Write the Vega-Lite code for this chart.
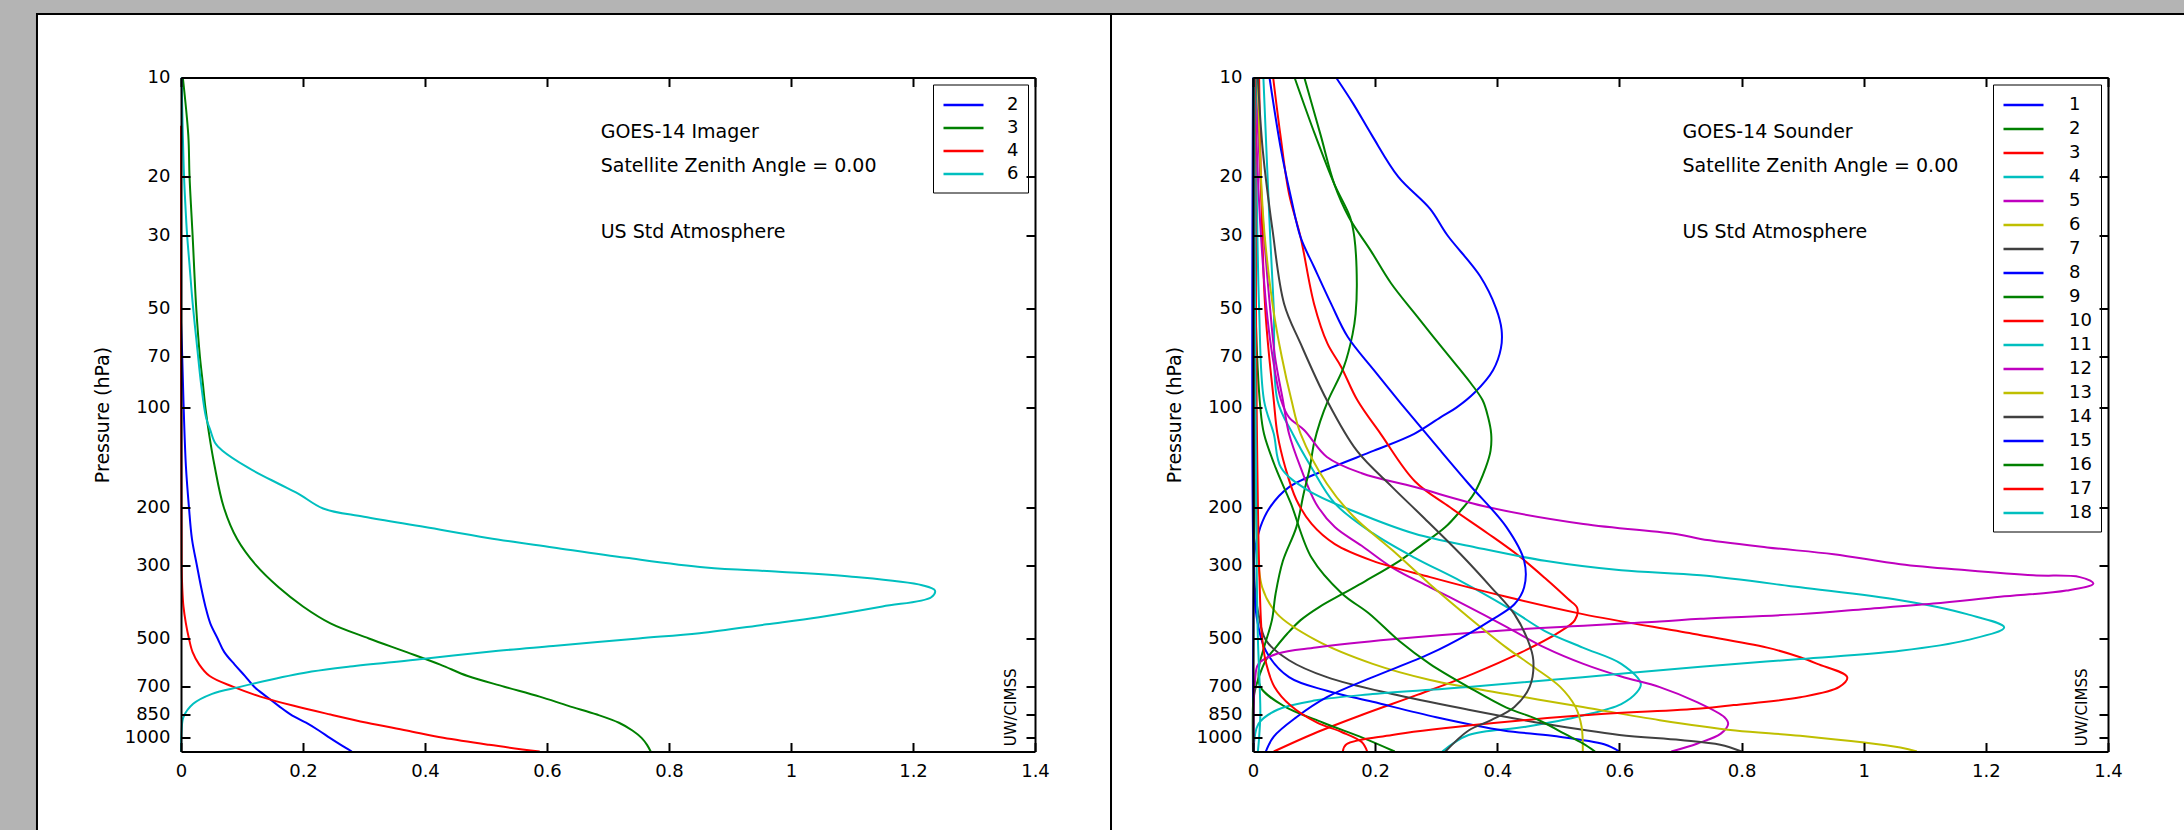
{
  "$schema": "https://vega.github.io/schema/vega-lite/v6.json",
  "background": "#b4b4b4",
  "padding": {"left": 35, "top": 12.5, "right": 0, "bottom": 0},
  "config": {
    "font": "DejaVu Sans",
    "view": {"stroke": null},
    "axis": {"grid": false, "domainColor": "black", "domainWidth": 2, "tickColor": "black", "tickWidth": 2, "tickSize": -9, "labelFontSize": 18, "labelColor": "black", "labelFont": "DejaVu Sans", "labelFlush": false}
  },
  "datasets": {
    "imager": [
      {"c":"2","p":55,"w":0},{"c":"2","p":70,"w":0.002},{"c":"2","p":95,"w":0.004},{"c":"2","p":150,"w":0.008},{"c":"2","p":200,"w":0.013},{"c":"2","p":250,"w":0.018},{"c":"2","p":300,"w":0.026},{"c":"2","p":350,"w":0.033},{"c":"2","p":400,"w":0.04},{"c":"2","p":450,"w":0.048},{"c":"2","p":500,"w":0.06},{"c":"2","p":550,"w":0.071},{"c":"2","p":600,"w":0.088},{"c":"2","p":650,"w":0.105},{"c":"2","p":700,"w":0.12},{"c":"2","p":750,"w":0.14},{"c":"2","p":800,"w":0.16},{"c":"2","p":850,"w":0.18},{"c":"2","p":900,"w":0.205},{"c":"2","p":950,"w":0.226},{"c":"2","p":1000,"w":0.244},{"c":"2","p":1050,"w":0.262},{"c":"2","p":1100,"w":0.28},
      {"c":"3","p":10,"w":0.003},{"c":"3","p":15,"w":0.012},{"c":"3","p":20,"w":0.014},{"c":"3","p":30,"w":0.019},{"c":"3","p":50,"w":0.025},{"c":"3","p":70,"w":0.031},{"c":"3","p":85,"w":0.036},{"c":"3","p":100,"w":0.04},{"c":"3","p":120,"w":0.046},{"c":"3","p":150,"w":0.055},{"c":"3","p":200,"w":0.07},{"c":"3","p":250,"w":0.092},{"c":"3","p":300,"w":0.123},{"c":"3","p":350,"w":0.16},{"c":"3","p":400,"w":0.2},{"c":"3","p":450,"w":0.245},{"c":"3","p":500,"w":0.308},{"c":"3","p":550,"w":0.37},{"c":"3","p":600,"w":0.425},{"c":"3","p":650,"w":0.47},{"c":"3","p":700,"w":0.53},{"c":"3","p":750,"w":0.588},{"c":"3","p":800,"w":0.635},{"c":"3","p":850,"w":0.682},{"c":"3","p":900,"w":0.718},{"c":"3","p":950,"w":0.74},{"c":"3","p":1000,"w":0.755},{"c":"3","p":1050,"w":0.764},{"c":"3","p":1100,"w":0.77},
      {"c":"4","p":14,"w":0},{"c":"4","p":300,"w":0.001},{"c":"4","p":350,"w":0.002},{"c":"4","p":400,"w":0.004},{"c":"4","p":450,"w":0.008},{"c":"4","p":500,"w":0.013},{"c":"4","p":550,"w":0.019},{"c":"4","p":600,"w":0.03},{"c":"4","p":650,"w":0.047},{"c":"4","p":700,"w":0.085},{"c":"4","p":750,"w":0.13},{"c":"4","p":800,"w":0.185},{"c":"4","p":850,"w":0.245},{"c":"4","p":900,"w":0.305},{"c":"4","p":950,"w":0.37},{"c":"4","p":1000,"w":0.43},{"c":"4","p":1050,"w":0.505},{"c":"4","p":1100,"w":0.588},
      {"c":"6","p":10,"w":0.001},{"c":"6","p":15,"w":0.003},{"c":"6","p":20,"w":0.005},{"c":"6","p":26,"w":0.008},{"c":"6","p":30,"w":0.01},{"c":"6","p":37,"w":0.014},{"c":"6","p":48,"w":0.019},{"c":"6","p":67,"w":0.027},{"c":"6","p":85,"w":0.033},{"c":"6","p":107,"w":0.041},{"c":"6","p":117,"w":0.048},{"c":"6","p":128,"w":0.056},{"c":"6","p":135,"w":0.068},{"c":"6","p":152,"w":0.11},{"c":"6","p":170,"w":0.16},{"c":"6","p":182,"w":0.192},{"c":"6","p":202,"w":0.233},{"c":"6","p":214,"w":0.3},{"c":"6","p":230,"w":0.4},{"c":"6","p":248,"w":0.503},{"c":"6","p":265,"w":0.61},{"c":"6","p":285,"w":0.73},{"c":"6","p":305,"w":0.86},{"c":"6","p":314,"w":0.98},{"c":"6","p":325,"w":1.1},{"c":"6","p":345,"w":1.215},{"c":"6","p":358,"w":1.236},{"c":"6","p":375,"w":1.23},{"c":"6","p":400,"w":1.15},{"c":"6","p":431,"w":1.046},{"c":"6","p":453,"w":0.96},{"c":"6","p":482,"w":0.85},{"c":"6","p":500,"w":0.75},{"c":"6","p":527,"w":0.61},{"c":"6","p":545,"w":0.52},{"c":"6","p":580,"w":0.384},{"c":"6","p":608,"w":0.277},{"c":"6","p":630,"w":0.214},{"c":"6","p":668,"w":0.145},{"c":"6","p":702,"w":0.095},{"c":"6","p":736,"w":0.051},{"c":"6","p":789,"w":0.02},{"c":"6","p":866,"w":0.004},{"c":"6","p":950,"w":0.001},{"c":"6","p":1100,"w":0}
    ],
    "sounder": [
      {"c":"1","p":10,"w":0.136},{"c":"1","p":12,"w":0.164},{"c":"1","p":15,"w":0.195},{"c":"1","p":20,"w":0.238},{"c":"1","p":25,"w":0.29},{"c":"1","p":30,"w":0.318},{"c":"1","p":40,"w":0.372},{"c":"1","p":50,"w":0.398},{"c":"1","p":58,"w":0.407},{"c":"1","p":66,"w":0.406},{"c":"1","p":77,"w":0.393},{"c":"1","p":90,"w":0.363},{"c":"1","p":100,"w":0.333},{"c":"1","p":107,"w":0.307},{"c":"1","p":120,"w":0.264},{"c":"1","p":135,"w":0.198},{"c":"1","p":152,"w":0.128},{"c":"1","p":174,"w":0.059},{"c":"1","p":200,"w":0.028},{"c":"1","p":230,"w":0.012},{"c":"1","p":270,"w":0.003},{"c":"1","p":350,"w":0.001},{"c":"1","p":1100,"w":0},
      {"c":"2","p":10,"w":0.084},{"c":"2","p":15,"w":0.111},{"c":"2","p":21,"w":0.133},{"c":"2","p":26.5,"w":0.157},{"c":"2","p":33.5,"w":0.193},{"c":"2","p":42,"w":0.226},{"c":"2","p":53,"w":0.269},{"c":"2","p":67,"w":0.313},{"c":"2","p":84.5,"w":0.357},{"c":"2","p":95,"w":0.376},{"c":"2","p":107,"w":0.385},{"c":"2","p":120,"w":0.39},{"c":"2","p":135,"w":0.389},{"c":"2","p":152,"w":0.381},{"c":"2","p":182,"w":0.362},{"c":"2","p":205,"w":0.34},{"c":"2","p":230,"w":0.315},{"c":"2","p":259,"w":0.278},{"c":"2","p":291,"w":0.24},{"c":"2","p":335,"w":0.184},{"c":"2","p":366,"w":0.147},{"c":"2","p":401,"w":0.109},{"c":"2","p":440,"w":0.078},{"c":"2","p":484,"w":0.056},{"c":"2","p":533,"w":0.037},{"c":"2","p":582,"w":0.021},{"c":"2","p":668,"w":0.008},{"c":"2","p":736,"w":0.002},{"c":"2","p":800,"w":0},{"c":"2","p":1100,"w":0},
      {"c":"3","p":10,"w":0.033},{"c":"3","p":15,"w":0.045},{"c":"3","p":22.5,"w":0.059},{"c":"3","p":30.5,"w":0.078},{"c":"3","p":48.5,"w":0.1},{"c":"3","p":64,"w":0.122},{"c":"3","p":75,"w":0.144},{"c":"3","p":95,"w":0.171},{"c":"3","p":120,"w":0.209},{"c":"3","p":167,"w":0.265},{"c":"3","p":200,"w":0.322},{"c":"3","p":240,"w":0.384},{"c":"3","p":280,"w":0.434},{"c":"3","p":328,"w":0.478},{"c":"3","p":380,"w":0.516},{"c":"3","p":405,"w":0.531},{"c":"3","p":440,"w":0.527},{"c":"3","p":480,"w":0.5},{"c":"3","p":550,"w":0.44},{"c":"3","p":640,"w":0.36},{"c":"3","p":740,"w":0.27},{"c":"3","p":850,"w":0.18},{"c":"3","p":970,"w":0.1},{"c":"3","p":1100,"w":0.034},
      {"c":"4","p":10,"w":0.017},{"c":"4","p":30,"w":0.028},{"c":"4","p":50,"w":0.034},{"c":"4","p":95,"w":0.04},{"c":"4","p":120,"w":0.065},{"c":"4","p":152,"w":0.096},{"c":"4","p":195,"w":0.134},{"c":"4","p":240,"w":0.196},{"c":"4","p":285,"w":0.265},{"c":"4","p":335,"w":0.34},{"c":"4","p":401,"w":0.415},{"c":"4","p":475,"w":0.478},{"c":"4","p":533,"w":0.54},{"c":"4","p":597,"w":0.603},{"c":"4","p":686,"w":0.635},{"c":"4","p":730,"w":0.628},{"c":"4","p":790,"w":0.603},{"c":"4","p":856,"w":0.54},{"c":"4","p":926,"w":0.447},{"c":"4","p":980,"w":0.353},{"c":"4","p":1100,"w":0.31},
      {"c":"5","p":10,"w":0.004},{"c":"5","p":20,"w":0.012},{"c":"5","p":30,"w":0.018},{"c":"5","p":50,"w":0.028},{"c":"5","p":70,"w":0.036},{"c":"5","p":95,"w":0.049},{"c":"5","p":120,"w":0.059},{"c":"5","p":152,"w":0.078},{"c":"5","p":195,"w":0.103},{"c":"5","p":230,"w":0.134},{"c":"5","p":262,"w":0.178},{"c":"5","p":305,"w":0.228},{"c":"5","p":350,"w":0.29},{"c":"5","p":401,"w":0.353},{"c":"5","p":461,"w":0.415},{"c":"5","p":533,"w":0.478},{"c":"5","p":597,"w":0.541},{"c":"5","p":652,"w":0.603},{"c":"5","p":702,"w":0.666},{"c":"5","p":781,"w":0.728},{"c":"5","p":866,"w":0.772},{"c":"5","p":907,"w":0.778},{"c":"5","p":971,"w":0.766},{"c":"5","p":1040,"w":0.728},{"c":"5","p":1100,"w":0.685},
      {"c":"6","p":10,"w":0.002},{"c":"6","p":100,"w":0.003},{"c":"6","p":230,"w":0.006},{"c":"6","p":350,"w":0.015},{"c":"6","p":422,"w":0.04},{"c":"6","p":506,"w":0.103},{"c":"6","p":597,"w":0.196},{"c":"6","p":668,"w":0.29},{"c":"6","p":737,"w":0.415},{"c":"6","p":806,"w":0.54},{"c":"6","p":884,"w":0.666},{"c":"6","p":950,"w":0.79},{"c":"6","p":986,"w":0.896},{"c":"6","p":1070,"w":1.06},{"c":"6","p":1100,"w":1.087},
      {"c":"7","p":10,"w":0.005},{"c":"7","p":100,"w":0.004},{"c":"7","p":350,"w":0.003},{"c":"7","p":422,"w":0.009},{"c":"7","p":506,"w":0.021},{"c":"7","p":582,"w":0.059},{"c":"7","p":655,"w":0.121},{"c":"7","p":737,"w":0.228},{"c":"7","p":822,"w":0.353},{"c":"7","p":907,"w":0.478},{"c":"7","p":980,"w":0.6},{"c":"7","p":1016,"w":0.7},{"c":"7","p":1050,"w":0.765},{"c":"7","p":1100,"w":0.8},
      {"c":"8","p":10,"w":0},{"c":"8","p":300,"w":0.001},{"c":"8","p":431,"w":0.006},{"c":"8","p":545,"w":0.021},{"c":"8","p":655,"w":0.059},{"c":"8","p":720,"w":0.121},{"c":"8","p":778,"w":0.196},{"c":"8","p":866,"w":0.3},{"c":"8","p":950,"w":0.41},{"c":"8","p":986,"w":0.49},{"c":"8","p":1046,"w":0.575},{"c":"8","p":1100,"w":0.6},
      {"c":"9","p":10,"w":0.068},{"c":"9","p":14.8,"w":0.101},{"c":"9","p":21,"w":0.133},{"c":"9","p":26.5,"w":0.159},{"c":"9","p":30.5,"w":0.166},{"c":"9","p":42,"w":0.17},{"c":"9","p":52,"w":0.168},{"c":"9","p":60,"w":0.163},{"c":"9","p":75,"w":0.149},{"c":"9","p":95,"w":0.123},{"c":"9","p":110,"w":0.11},{"c":"9","p":128,"w":0.1},{"c":"9","p":152,"w":0.093},{"c":"9","p":182,"w":0.083},{"c":"9","p":230,"w":0.071},{"c":"9","p":291,"w":0.049},{"c":"9","p":366,"w":0.037},{"c":"9","p":440,"w":0.031},{"c":"9","p":533,"w":0.018},{"c":"9","p":610,"w":0.01},{"c":"9","p":700,"w":0.012},{"c":"9","p":800,"w":0.05},{"c":"9","p":900,"w":0.115},{"c":"9","p":1000,"w":0.18},{"c":"9","p":1100,"w":0.232},
      {"c":"10","p":10,"w":0.01},{"c":"10","p":50,"w":0.02},{"c":"10","p":95,"w":0.034},{"c":"10","p":120,"w":0.04},{"c":"10","p":152,"w":0.053},{"c":"10","p":190,"w":0.071},{"c":"10","p":225,"w":0.096},{"c":"10","p":259,"w":0.134},{"c":"10","p":291,"w":0.196},{"c":"10","p":326,"w":0.29},{"c":"10","p":374,"w":0.415},{"c":"10","p":422,"w":0.54},{"c":"10","p":484,"w":0.72},{"c":"10","p":533,"w":0.842},{"c":"10","p":570,"w":0.896},{"c":"10","p":597,"w":0.924},{"c":"10","p":655,"w":0.973},{"c":"10","p":701,"w":0.96},{"c":"10","p":754,"w":0.896},{"c":"10","p":796,"w":0.787},{"c":"10","p":815,"w":0.733},{"c":"10","p":855,"w":0.54},{"c":"10","p":918,"w":0.353},{"c":"10","p":980,"w":0.228},{"c":"10","p":1046,"w":0.153},{"c":"10","p":1100,"w":0.147},
      {"c":"11","p":10,"w":0.004},{"c":"11","p":50,"w":0.01},{"c":"11","p":95,"w":0.018},{"c":"11","p":120,"w":0.034},{"c":"11","p":152,"w":0.046},{"c":"11","p":178,"w":0.09},{"c":"11","p":206,"w":0.165},{"c":"11","p":241,"w":0.265},{"c":"11","p":265,"w":0.365},{"c":"11","p":291,"w":0.478},{"c":"11","p":311,"w":0.603},{"c":"11","p":322,"w":0.733},{"c":"11","p":350,"w":0.896},{"c":"11","p":383,"w":1.06},{"c":"11","p":422,"w":1.169},{"c":"11","p":463,"w":1.23},{"c":"11","p":506,"w":1.169},{"c":"11","p":545,"w":1.06},{"c":"11","p":577,"w":0.896},{"c":"11","p":609,"w":0.733},{"c":"11","p":655,"w":0.54},{"c":"11","p":701,"w":0.353},{"c":"11","p":737,"w":0.196},{"c":"11","p":770,"w":0.103},{"c":"11","p":822,"w":0.04},{"c":"11","p":907,"w":0.009},{"c":"11","p":1100,"w":0.001},
      {"c":"12","p":10,"w":0.002},{"c":"12","p":20,"w":0.008},{"c":"12","p":30,"w":0.013},{"c":"12","p":50,"w":0.022},{"c":"12","p":70,"w":0.032},{"c":"12","p":95,"w":0.046},{"c":"12","p":107,"w":0.059},{"c":"12","p":117,"w":0.084},{"c":"12","p":141,"w":0.121},{"c":"12","p":158,"w":0.178},{"c":"12","p":174,"w":0.265},{"c":"12","p":200,"w":0.384},{"c":"12","p":225,"w":0.541},{"c":"12","p":242,"w":0.697},{"c":"12","p":250,"w":0.733},{"c":"12","p":265,"w":0.842},{"c":"12","p":278,"w":0.951},{"c":"12","p":298,"w":1.06},{"c":"12","p":311,"w":1.169},{"c":"12","p":322,"w":1.278},{"c":"12","p":326,"w":1.354},{"c":"12","p":341,"w":1.376},{"c":"12","p":358,"w":1.332},{"c":"12","p":374,"w":1.223},{"c":"12","p":392,"w":1.114},{"c":"12","p":407,"w":1.005},{"c":"12","p":422,"w":0.896},{"c":"12","p":436,"w":0.733},{"c":"12","p":444,"w":0.666},{"c":"12","p":472,"w":0.415},{"c":"12","p":503,"w":0.228},{"c":"12","p":533,"w":0.103},{"c":"12","p":556,"w":0.04},{"c":"12","p":597,"w":0.009},{"c":"12","p":686,"w":0.003},{"c":"12","p":1100,"w":0.001},
      {"c":"13","p":10,"w":0.008},{"c":"13","p":20,"w":0.013},{"c":"13","p":30,"w":0.019},{"c":"13","p":50,"w":0.033},{"c":"13","p":70,"w":0.047},{"c":"13","p":95,"w":0.063},{"c":"13","p":120,"w":0.078},{"c":"13","p":170,"w":0.121},{"c":"13","p":214,"w":0.165},{"c":"13","p":270,"w":0.228},{"c":"13","p":343,"w":0.29},{"c":"13","p":431,"w":0.353},{"c":"13","p":533,"w":0.415},{"c":"13","p":609,"w":0.459},{"c":"13","p":701,"w":0.503},{"c":"13","p":806,"w":0.528},{"c":"13","p":925,"w":0.538},{"c":"13","p":1100,"w":0.54},
      {"c":"14","p":10,"w":0.008},{"c":"14","p":16.6,"w":0.016},{"c":"14","p":29,"w":0.032},{"c":"14","p":48.5,"w":0.051},{"c":"14","p":64,"w":0.078},{"c":"14","p":95,"w":0.121},{"c":"14","p":135,"w":0.17},{"c":"14","p":174,"w":0.228},{"c":"14","p":214,"w":0.278},{"c":"14","p":278,"w":0.34},{"c":"14","p":350,"w":0.39},{"c":"14","p":422,"w":0.428},{"c":"14","p":506,"w":0.45},{"c":"14","p":582,"w":0.459},{"c":"14","p":701,"w":0.453},{"c":"14","p":806,"w":0.428},{"c":"14","p":884,"w":0.39},{"c":"14","p":950,"w":0.353},{"c":"14","p":1100,"w":0.315},
      {"c":"15","p":10,"w":0.027},{"c":"15","p":16.6,"w":0.046},{"c":"15","p":23,"w":0.062},{"c":"15","p":30.5,"w":0.078},{"c":"15","p":37.5,"w":0.1},{"c":"15","p":48.5,"w":0.128},{"c":"15","p":61,"w":0.155},{"c":"15","p":77,"w":0.198},{"c":"15","p":97,"w":0.242},{"c":"15","p":135,"w":0.307},{"c":"15","p":170,"w":0.353},{"c":"15","p":230,"w":0.415},{"c":"15","p":291,"w":0.444},{"c":"15","p":350,"w":0.444},{"c":"15","p":394,"w":0.428},{"c":"15","p":440,"w":0.39},{"c":"15","p":484,"w":0.353},{"c":"15","p":556,"w":0.29},{"c":"15","p":655,"w":0.196},{"c":"15","p":753,"w":0.121},{"c":"15","p":866,"w":0.071},{"c":"15","p":991,"w":0.034},{"c":"15","p":1100,"w":0.021},
      {"c":"16","p":10,"w":0.001},{"c":"16","p":50,"w":0.004},{"c":"16","p":100,"w":0.012},{"c":"16","p":120,"w":0.018},{"c":"16","p":152,"w":0.037},{"c":"16","p":195,"w":0.062},{"c":"16","p":285,"w":0.096},{"c":"16","p":366,"w":0.146},{"c":"16","p":420,"w":0.19},{"c":"16","p":510,"w":0.24},{"c":"16","p":598,"w":0.29},{"c":"16","p":702,"w":0.353},{"c":"16","p":810,"w":0.415},{"c":"16","p":880,"w":0.466},{"c":"16","p":970,"w":0.509},{"c":"16","p":1040,"w":0.54},{"c":"16","p":1100,"w":0.56},
      {"c":"17","p":10,"w":0.003},{"c":"17","p":100,"w":0.006},{"c":"17","p":300,"w":0.01},{"c":"17","p":500,"w":0.015},{"c":"17","p":600,"w":0.022},{"c":"17","p":700,"w":0.035},{"c":"17","p":800,"w":0.062},{"c":"17","p":900,"w":0.105},{"c":"17","p":960,"w":0.145},{"c":"17","p":1030,"w":0.178},{"c":"17","p":1100,"w":0.187},
      {"c":"18","p":10,"w":0.002},{"c":"18","p":100,"w":0.004},{"c":"18","p":300,"w":0.006},{"c":"18","p":500,"w":0.008},{"c":"18","p":700,"w":0.011},{"c":"18","p":850,"w":0.012},{"c":"18","p":1000,"w":0.01},{"c":"18","p":1100,"w":0.008}
    ]
  },
  "hconcat": [
    {
      "width": 854,
      "height": 674,
      "layer": [
        {
          "data": {"values": [{}]},
          "mark": {"type": "rect", "fill": "white", "stroke": "black", "strokeWidth": 2},
          "encoding": {
            "x": {"datum": -0.2361, "type": "quantitative", "scale": {"domain": [0, 1.4], "nice": false, "zero": false}, "axis": null},
            "x2": {"datum": 1.5246},
            "y": {"datum": 6.424, "type": "quantitative", "scale": {"type": "log", "domain": [10, 1100], "reverse": true, "nice": false}, "axis": null},
            "y2": {"datum": 3000}
          }
        },
        {
          "data": {"name": "imager"},
          "mark": {"type": "line", "strokeWidth": 2, "interpolate": "catmull-rom"},
          "encoding": {
            "x": {"field": "w", "type": "quantitative", "scale": {"domain": [0, 1.4], "nice": false, "zero": false}, "axis": {"orient": "bottom", "zindex": 2, "values": [0, 0.2, 0.4, 0.6, 0.8, 1, 1.2, 1.4], "format": "~g", "labelPadding": 20, "title": null}},
            "y": {"field": "p", "type": "quantitative", "scale": {"type": "log", "domain": [10, 1100], "reverse": true, "nice": false}, "axis": {"orient": "left", "zindex": 2, "values": [10, 20, 30, 50, 70, 100, 200, 300, 500, 700, 850, 1000], "format": "~g", "labelPadding": 20, "title": "Pressure (hPa)", "titleFontSize": 19, "titleFont": "DejaVu Sans", "titleFontWeight": "normal", "titleColor": "black", "titlePadding": 12}},
            "order": {"field": "p", "type": "quantitative"},
            "color": {"field": "c", "type": "nominal", "scale": {"domain": ["2", "3", "4", "6"], "range": ["#0000ff", "#008000", "#ff0000", "#00bfbf"]},
              "legend": {"orient": "top-right", "offset": 7, "title": null, "fillColor": "white", "strokeColor": "black", "padding": 9, "labelFontSize": 18, "labelColor": "black", "labelFont": "DejaVu Sans", "symbolType": "M-2,0H2", "symbolSize": 400, "symbolStrokeWidth": 2.5, "symbolOffset": 10, "labelOffset": 32, "rowPadding": 2}}
          }
        },
        {
          "data": {"values": [{}]},
          "mark": {"type": "text", "align": "left", "baseline": "alphabetic", "fontSize": 19, "lineHeight": 34.5, "color": "black", "text": ["GOES-14 Imager", "Satellite Zenith Angle = 0.00"]},
          "encoding": {
            "x": {"datum": 0.688, "type": "quantitative", "scale": {"domain": [0, 1.4], "nice": false, "zero": false}, "axis": {"orient": "top", "zindex": 2, "values": [0, 0.2, 0.4, 0.6, 0.8, 1, 1.2, 1.4], "labels": false, "title": null}},
            "y": {"datum": 15.2, "type": "quantitative", "scale": {"type": "log", "domain": [10, 1100], "reverse": true, "nice": false}, "axis": {"orient": "right", "zindex": 2, "values": [10, 20, 30, 50, 70, 100, 200, 300, 500, 700, 850, 1000], "labels": false, "title": null}}
          }
        },
        {
          "data": {"values": [{}]},
          "mark": {"type": "text", "align": "left", "baseline": "alphabetic", "fontSize": 19, "color": "black", "text": "US Std Atmosphere"},
          "encoding": {
            "x": {"datum": 0.688, "type": "quantitative", "scale": {"domain": [0, 1.4], "nice": false, "zero": false}, "axis": null},
            "y": {"datum": 30.7, "type": "quantitative", "scale": {"type": "log", "domain": [10, 1100], "reverse": true, "nice": false}, "axis": null}
          }
        },
        {
          "data": {"values": [{}]},
          "mark": {"type": "text", "angle": 270, "align": "center", "baseline": "middle", "fontSize": 15, "color": "black", "text": "UW/CIMSS"},
          "encoding": {
            "x": {"datum": 1.36, "type": "quantitative", "scale": {"domain": [0, 1.4], "nice": false, "zero": false}, "axis": null},
            "y": {"datum": 809, "type": "quantitative", "scale": {"type": "log", "domain": [10, 1100], "reverse": true, "nice": false}, "axis": null}
          }
        }
      ],
      "resolve": {"axis": {"x": "independent", "y": "independent"}}
    },
    {
      "width": 855,
      "height": 674,
      "layer": [
        {
          "data": {"values": [{}]},
          "mark": {"type": "rect", "fill": "white", "stroke": "black", "strokeWidth": 2},
          "encoding": {
            "x": {"datum": -0.2325, "type": "quantitative", "scale": {"domain": [0, 1.4], "nice": false, "zero": false}, "axis": null},
            "x2": {"datum": 1.7},
            "y": {"datum": 6.424, "type": "quantitative", "scale": {"type": "log", "domain": [10, 1100], "reverse": true, "nice": false}, "axis": null},
            "y2": {"datum": 3000}
          }
        },
        {
          "data": {"name": "sounder"},
          "mark": {"type": "line", "strokeWidth": 2, "interpolate": "catmull-rom"},
          "encoding": {
            "x": {"field": "w", "type": "quantitative", "scale": {"domain": [0, 1.4], "nice": false, "zero": false}, "axis": {"orient": "bottom", "zindex": 2, "values": [0, 0.2, 0.4, 0.6, 0.8, 1, 1.2, 1.4], "format": "~g", "labelPadding": 20, "title": null}},
            "y": {"field": "p", "type": "quantitative", "scale": {"type": "log", "domain": [10, 1100], "reverse": true, "nice": false}, "axis": {"orient": "left", "zindex": 2, "values": [10, 20, 30, 50, 70, 100, 200, 300, 500, 700, 850, 1000], "format": "~g", "labelPadding": 20, "title": "Pressure (hPa)", "titleFontSize": 19, "titleFont": "DejaVu Sans", "titleFontWeight": "normal", "titleColor": "black", "titlePadding": 12}},
            "order": {"field": "p", "type": "quantitative"},
            "color": {"field": "c", "type": "nominal", "scale": {"domain": ["1","2","3","4","5","6","7","8","9","10","11","12","13","14","15","16","17","18"], "range": ["#0000ff","#008000","#ff0000","#00bfbf","#bf00bf","#bfbf00","#404040","#0000ff","#008000","#ff0000","#00bfbf","#bf00bf","#bfbf00","#404040","#0000ff","#008000","#ff0000","#00bfbf"]},
              "legend": {"orient": "top-right", "offset": 7, "title": null, "fillColor": "white", "strokeColor": "black", "padding": 9, "labelFontSize": 18, "labelColor": "black", "labelFont": "DejaVu Sans", "symbolType": "M-2,0H2", "symbolSize": 400, "symbolStrokeWidth": 2.5, "symbolOffset": 10, "labelOffset": 34, "rowPadding": 3, "symbolLimit": 0}}
          }
        },
        {
          "data": {"values": [{}]},
          "mark": {"type": "text", "align": "left", "baseline": "alphabetic", "fontSize": 19, "lineHeight": 34.5, "color": "black", "text": ["GOES-14 Sounder", "Satellite Zenith Angle = 0.00"]},
          "encoding": {
            "x": {"datum": 0.7033, "type": "quantitative", "scale": {"domain": [0, 1.4], "nice": false, "zero": false}, "axis": {"orient": "top", "zindex": 2, "values": [0, 0.2, 0.4, 0.6, 0.8, 1, 1.2, 1.4], "labels": false, "title": null}},
            "y": {"datum": 15.2, "type": "quantitative", "scale": {"type": "log", "domain": [10, 1100], "reverse": true, "nice": false}, "axis": {"orient": "right", "zindex": 2, "values": [10, 20, 30, 50, 70, 100, 200, 300, 500, 700, 850, 1000], "labels": false, "title": null}}
          }
        },
        {
          "data": {"values": [{}]},
          "mark": {"type": "text", "align": "left", "baseline": "alphabetic", "fontSize": 19, "color": "black", "text": "US Std Atmosphere"},
          "encoding": {
            "x": {"datum": 0.7033, "type": "quantitative", "scale": {"domain": [0, 1.4], "nice": false, "zero": false}, "axis": null},
            "y": {"datum": 30.7, "type": "quantitative", "scale": {"type": "log", "domain": [10, 1100], "reverse": true, "nice": false}, "axis": null}
          }
        },
        {
          "data": {"values": [{}]},
          "mark": {"type": "text", "angle": 270, "align": "center", "baseline": "middle", "fontSize": 15, "color": "black", "text": "UW/CIMSS"},
          "encoding": {
            "x": {"datum": 1.3575, "type": "quantitative", "scale": {"domain": [0, 1.4], "nice": false, "zero": false}, "axis": null},
            "y": {"datum": 809, "type": "quantitative", "scale": {"type": "log", "domain": [10, 1100], "reverse": true, "nice": false}, "axis": null}
          }
        }
      ],
      "resolve": {"axis": {"x": "independent", "y": "independent"}}
    }
  ],
  "spacing": 218,
  "bounds": "flush",
  "resolve": {"scale": {"color": "independent"}, "legend": {"color": "independent"}}
}
